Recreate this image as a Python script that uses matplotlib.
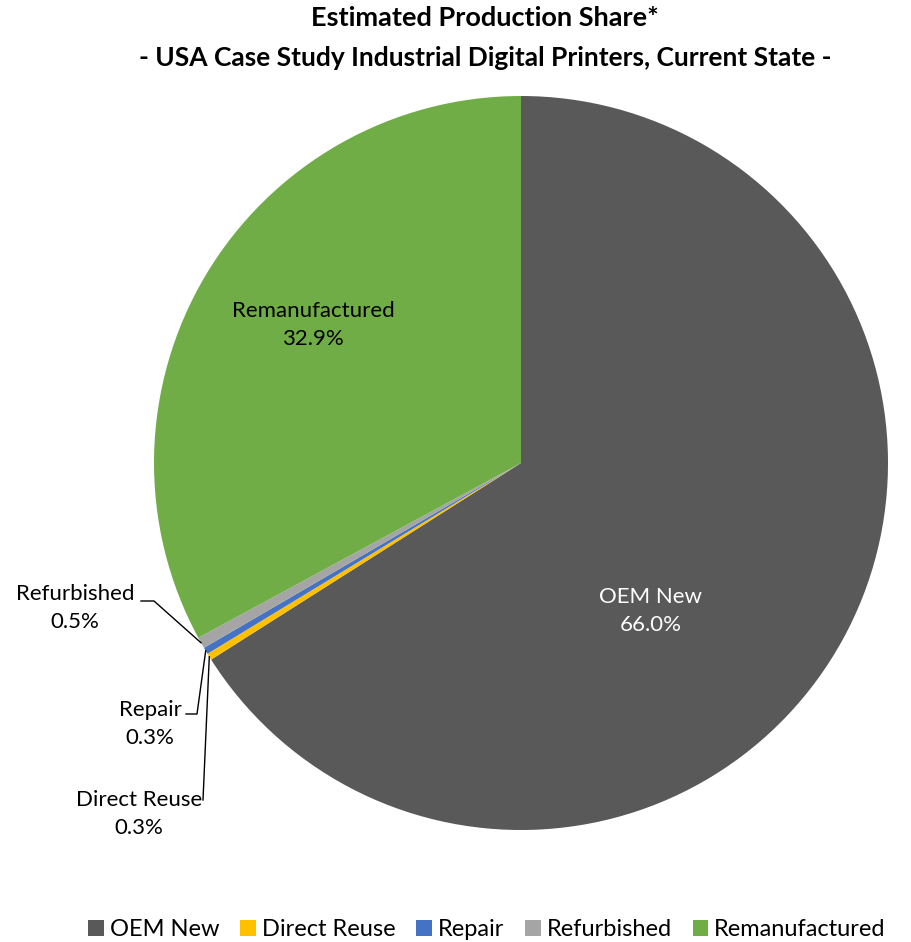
import numpy as np
import matplotlib.pyplot as plt
from matplotlib.patches import Patch

plt.rcParams['font.family'] = ['Lato', 'DejaVu Sans']

categories = ['OEM New', 'Direct Reuse', 'Repair', 'Refurbished', 'Remanufactured']
shares = [66.0, 0.3, 0.3, 0.5, 32.9]
colors = ['#595959', '#FFC000', '#4472C4', '#A5A5A5', '#70AD47']

W, H = 912, 942
fig = plt.figure(figsize=(W / 100, H / 100), dpi=100)
ax = fig.add_axes([0, 0, 1, 1])

cx, cy, r = 521, H - 463, 367
wedges, _ = ax.pie(shares, colors=colors, startangle=90, counterclock=False,
                   center=(cx, cy), radius=r, frame=True,
                   wedgeprops=dict(linewidth=0))
ax.set_xlim(0, W)
ax.set_ylim(0, H)
ax.set_aspect('equal')
ax.axis('off')


def mid_point(w):
    ang = np.deg2rad((w.theta1 + w.theta2) / 2)
    return cx + r * np.cos(ang), cy + r * np.sin(ang)


def label(i, x, y, color='black'):
    ax.text(x, y, f"{categories[i]}\n{shares[i]:.1f}%", ha='center', va='center',
            fontsize=16, color=color, linespacing=1.55)


# inner labels for the two large slices
label(0, 651, H - 611, color='white')
label(4, 313, H - 325)

# small slices get outside labels with leader lines
label(3, 75, H - 608)
label(2, 150, H - 724)
label(1, 139, H - 814)

lw = 1.0
px, py = mid_point(wedges[3])
ax.plot([141, 154, px], [H - 601, H - 601, py], color='black', lw=lw)
px, py = mid_point(wedges[2])
ax.plot([186, 197, px], [H - 714, H - 714, py], color='black', lw=lw)
px, py = mid_point(wedges[1])
ax.plot([203, px], [H - 800, py], color='black', lw=lw)

tx = 485 / W
fig.text(tx, 1 - 18 / H, 'Estimated Production Share*', ha='center', va='center',
         fontsize=19.5, fontweight='bold')
fig.text(tx, 1 - 58 / H, '- USA Case Study Industrial Digital Printers, Current State -',
         ha='center', va='center', fontsize=19, fontweight='bold')

handles = [Patch(facecolor=c, label=n) for n, c in zip(categories, colors)]
fig.legend(handles=handles, loc='center', bbox_to_anchor=(487 / W, 1 - 930 / H), ncol=5,
           frameon=False, fontsize=17, handlelength=0.65, handleheight=0.65,
           handletextpad=0.25, columnspacing=0.9, borderaxespad=0)

fig.savefig('out.png', dpi=100)
